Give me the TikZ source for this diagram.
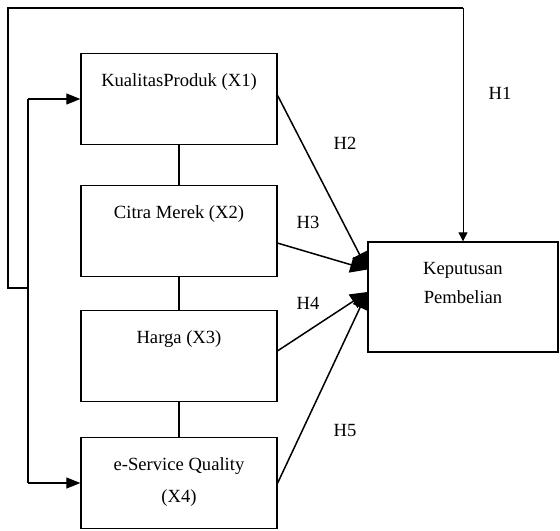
\documentclass[tikz,border=0pt]{standalone}
\usepackage{fontspec}
\setmainfont{Liberation Serif}
\usetikzlibrary{arrows.meta}

\begin{document}
\begin{tikzpicture}[x=0.5pt,y=-0.5pt,
	every node/.style={font=\fontsize{9.3}{11.2}\selectfont},
	var/.style={draw,line width=0.65pt,minimum width=98pt,minimum height=45.5pt,inner sep=0pt},
	txt/.style={anchor=north,yshift=-7pt,align=center},
	bold/.style={line width=1.3pt},
	hyp/.style={line width=0.75pt,-{Triangle[length=8.5pt,width=8pt]}},
	side/.style={line width=0.55pt,-{Triangle[length=7pt,width=5.5pt]}}]
\useasboundingbox (0,0) rectangle (560,530);

\node[var,label={[txt]north:KualitasProduk (X1)}] (x1) at (179,99) {};
\node[var,label={[txt]north:Citra Merek (X2)}] (x2) at (179,231) {};
\node[var,label={[txt]north:Harga (X3)}] (x3) at (179,356) {};
\node[var,label={[txt]north:{e-Service Quality\\[4.5pt](X4)}}] (x4) at (179,483) {};
\node[var,minimum width=95pt,minimum height=55pt,
	label={[txt]north:{Keputusan\\[3pt]Pembelian}}] (kp) at (463,297) {};

\draw[line width=0.65pt] (x1.south) -- (x2.north);
\draw[line width=0.65pt] (x2.south) -- (x3.north);
\draw[line width=0.65pt] (x3.south) -- (x4.north);

% H1 bracket
\coordinate (hub) at (28,288);
\coordinate (top) at (8,8);
\draw[bold] (hub) -- (top |- hub) -- (top) -- (top -| kp.north);
\draw[line width=0.5pt,-{Triangle[length=4.5pt,width=4.5pt]}] (top -| kp.north) -- (kp.north);
\draw[bold] (x1.west -| hub) -- (x4.west -| hub);
\draw[side] (x1.west -| hub) -- (x1.west);
\draw[side] (x4.west -| hub) -- (x4.west);

% H2 - H5
\draw[hyp] (x1.2) -- (kp.164);
\draw[hyp] (x2.-7) -- (kp.164);
\draw[hyp] (x3.3) -- (kp.177);
\draw[hyp] (x4.east) -- (kp.177);

\node (h1) at (500,93) {H1};
\node (h2) at (345,143) {H2};
\node (h3) at (308,222) {H3};
\node (h4) at (308,303) {H4};
\node (h5) at (345,430) {H5};
\end{tikzpicture}
\end{document}
